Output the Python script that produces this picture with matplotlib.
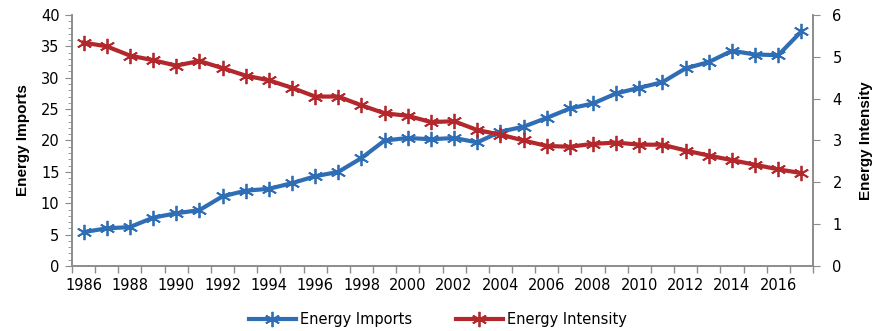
# -*- coding: utf-8 -*-
import numpy as np
import matplotlib
matplotlib.use("Agg")
import matplotlib.pyplot as plt
from matplotlib.ticker import FixedLocator, MultipleLocator

years = list(range(1986, 2018))
energy_imports = [5.4, 6.0, 6.2, 7.7, 8.4, 8.9, 11.1, 12.0, 12.3, 13.2,
                  14.3, 15.0, 17.2, 20.0, 20.4, 20.2, 20.4, 19.7, 21.4, 22.2,
                  23.6, 25.1, 25.9, 27.5, 28.4, 29.3, 31.5, 32.5, 34.3, 33.7,
                  33.6, 37.4]
energy_intensity = [5.34, 5.25, 5.03, 4.92, 4.79, 4.90, 4.73, 4.55, 4.44, 4.26,
                    4.05, 4.05, 3.84, 3.65, 3.59, 3.44, 3.46, 3.25, 3.14, 3.00,
                    2.87, 2.85, 2.92, 2.95, 2.90, 2.90, 2.76, 2.64, 2.53, 2.42,
                    2.31, 2.22]

def main():
    plt.rcParams["font.family"] = ["DejaVu Sans"]
    blue = "#2F6EB5"
    red = "#B2282C"
    grey = "#8C8C8C"
    star = (6, 2, 0)
    narrow = ["Liberation Sans Narrow", "Liberation Sans", "DejaVu Sans"]

    fig = plt.figure(figsize=(8.76, 3.31), dpi=100)
    ax = fig.add_axes([0.0822, 0.1964, 0.8459, 0.7583])
    ax2 = ax.twinx()

    x = np.arange(len(years))
    l1, = ax.plot(x, energy_imports, color=blue, linewidth=3, marker=star,
                  markersize=11, markeredgewidth=1.3, label="Energy Imports")
    l2, = ax2.plot(x, energy_intensity, color=red, linewidth=3, marker=star,
                   markersize=11, markeredgewidth=1.3, label="Energy Intensity")

    ax.set_xlim(-0.5, len(years) - 0.5)
    ax.set_ylim(0, 40)
    ax2.set_ylim(0, 6)
    ax.yaxis.set_major_locator(MultipleLocator(5))
    ax.yaxis.set_minor_locator(MultipleLocator(1))
    ax2.yaxis.set_major_locator(MultipleLocator(1))

    # category axis: marks between categories, label every second year
    ax.xaxis.set_major_locator(FixedLocator(x[::2]))
    ax.set_xticklabels([str(y) for y in years[::2]])
    ax.xaxis.set_minor_locator(FixedLocator(np.arange(-0.5, len(years), 1)))
    ax.tick_params(axis="x", which="major", length=0, pad=9, labelsize=10.5)
    ax.tick_params(axis="x", which="minor", length=5, color=grey, width=1)
    ax.tick_params(axis="y", which="major", length=5, color=grey, labelsize=10.5, pad=4)
    ax.tick_params(axis="y", which="minor", length=3, color=grey)
    ax2.tick_params(axis="y", which="major", length=5, color=grey, labelsize=10.5, pad=9)

    for a in (ax, ax2):
        a.spines["top"].set_visible(False)
        for s in ("left", "right", "bottom"):
            a.spines[s].set_color(grey)
            a.spines[s].set_linewidth(1.2)

    ax.set_ylabel("Energy Imports", fontsize=11, fontweight="bold",
                  family=narrow, labelpad=8)
    ax2.set_ylabel("Energy Intensity", fontsize=11, fontweight="bold",
                   family=narrow, labelpad=12)

    fig.legend(handles=[l1, l2], loc="center", bbox_to_anchor=(0.5, 0.035),
               ncol=2, frameon=False, fontsize=10.5, handlelength=3.2,
               columnspacing=3, handletextpad=0.3)

    fig.savefig("out.png", dpi=100)

if __name__ == "__main__":
    main()
